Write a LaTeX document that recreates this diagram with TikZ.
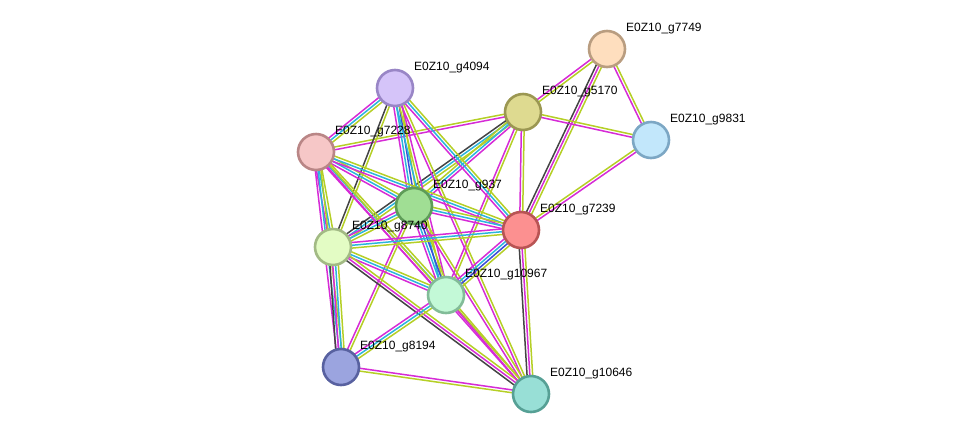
\documentclass[tikz,border=0pt]{standalone}
\usepackage{fontspec}
\setmainfont{Liberation Sans}
\usetikzlibrary{calc}
\pgfdeclarelayer{bg}
\pgfsetlayers{bg,main}
\definecolor{mg}{HTML}{D62BD6}
\definecolor{yg}{HTML}{B5CF26}
\definecolor{cy}{HTML}{2BB5DD}
\definecolor{bk}{HTML}{444444}
\definecolor{bl}{HTML}{3B4BD6}
\tikzset{
  prot/.style={circle,minimum size=36pt,inner sep=0pt,line width=2.6pt},
  lbl/.style={anchor=west,inner sep=0pt,font=\fontsize{12}{14}\selectfont},
  ln/.style={line width=1.5pt}
}
\newcommand\edg[4]{%
  \foreach \col [count=\i] in {#4} {%
    \pgfmathsetmacro\off{(\i-(#3+1)/2)*2.8}%
    \draw[ln,color=\col] ($(#1.center)!\off pt!90:(#2.center)$) -- ($(#2.center)!\off pt!-90:(#1.center)$);
  }%
}
\begin{document}
\begin{tikzpicture}[x=1pt,y=-1pt]
\useasboundingbox (0,0) rectangle (976,440);
\node[prot,fill={rgb,255:red,254;green,222;blue,190},draw={rgb,255:red,185;green,157;blue,128}] (A) at (607,49) {};
\node[prot,fill={rgb,255:red,222;green,218;blue,144},draw={rgb,255:red,155;green,151;blue,82}] (B) at (523,112) {};
\node[prot,fill={rgb,255:red,194;green,231;blue,251},draw={rgb,255:red,124;green,167;blue,196}] (C) at (651,140) {};
\node[prot,fill={rgb,255:red,213;green,196;blue,249},draw={rgb,255:red,153;green,134;blue,198}] (D) at (395,88) {};
\node[prot,fill={rgb,255:red,246;green,199;blue,199},draw={rgb,255:red,185;green,134;blue,134}] (E) at (316,152) {};
\node[prot,fill={rgb,255:red,160;green,222;blue,148},draw={rgb,255:red,94;green,156;blue,88}] (F) at (414,206) {};
\node[prot,fill={rgb,255:red,252;green,144;blue,144},draw={rgb,255:red,184;green,84;blue,84}] (G) at (521,230) {};
\node[prot,fill={rgb,255:red,227;green,252;blue,196},draw={rgb,255:red,162;green,186;blue,132}] (H) at (333,247) {};
\node[prot,fill={rgb,255:red,195;green,249;blue,215},draw={rgb,255:red,130;green,188;blue,152}] (I) at (446,295) {};
\node[prot,fill={rgb,255:red,155;green,164;blue,223},draw={rgb,255:red,88;green,97;blue,160}] (J) at (341,367) {};
\node[prot,fill={rgb,255:red,152;green,223;blue,214},draw={rgb,255:red,86;green,160;blue,149}] (K) at (531,394) {};
\begin{pgfonlayer}{bg}
\edg{A}{B}{2}{mg,yg}
\edg{A}{C}{2}{mg,yg}
\edg{A}{G}{3}{bk,mg,yg}
\edg{B}{C}{2}{mg,yg}
\edg{B}{G}{2}{mg,yg}
\edg{C}{G}{2}{yg,mg}
\edg{B}{E}{2}{yg,mg}
\edg{B}{H}{3}{bk,cy,yg}
\edg{B}{F}{3}{yg,cy,mg}
\edg{B}{I}{2}{mg,yg}
\edg{D}{E}{3}{mg,cy,yg}
\edg{D}{F}{4}{mg,cy,bl,yg}
\edg{D}{H}{2}{bk,yg}
\edg{D}{G}{3}{mg,cy,yg}
\edg{D}{I}{3}{cy,yg,mg}
\edg{D}{K}{2}{mg,yg}
\edg{E}{F}{3}{mg,cy,yg}
\edg{E}{G}{3}{mg,cy,yg}
\edg{E}{H}{3}{mg,cy,yg}
\edg{E}{J}{3}{mg,cy,yg}
\edg{E}{I}{3}{mg,cy,yg}
\edg{E}{K}{2}{mg,yg}
\edg{F}{G}{3}{mg,cy,yg}
\edg{F}{H}{3}{mg,cy,yg}
\edg{F}{I}{4}{mg,cy,bl,yg}
\edg{F}{J}{2}{mg,yg}
\edg{F}{K}{2}{mg,yg}
\edg{G}{H}{3}{mg,cy,yg}
\edg{G}{I}{4}{mg,cy,bl,yg}
\edg{G}{K}{3}{bk,mg,yg}
\edg{H}{I}{3}{mg,cy,yg}
\edg{H}{J}{4}{bk,mg,cy,yg}
\edg{H}{K}{3}{bk,mg,yg}
\edg{I}{J}{3}{mg,cy,yg}
\edg{I}{K}{2}{mg,yg}
\edg{J}{K}{2}{yg,mg}
\end{pgfonlayer}
\node[lbl] (lA) at (626,29) {E0Z10\_g7749};
\node[lbl] (lB) at (542,92) {E0Z10\_g5170};
\node[lbl] (lC) at (670,120) {E0Z10\_g9831};
\node[lbl] (lD) at (414,68) {E0Z10\_g4094};
\node[lbl] (lE) at (335,132) {E0Z10\_g7228};
\node[lbl] (lF) at (433,186) {E0Z10\_g937};
\node[lbl] (lG) at (540,210) {E0Z10\_g7239};
\node[lbl] (lH) at (352,227) {E0Z10\_g8740};
\node[lbl] (lI) at (465,275) {E0Z10\_g10967};
\node[lbl] (lJ) at (360,347) {E0Z10\_g8194};
\node[lbl] (lK) at (550,374) {E0Z10\_g10646};
\end{tikzpicture}
\end{document}
